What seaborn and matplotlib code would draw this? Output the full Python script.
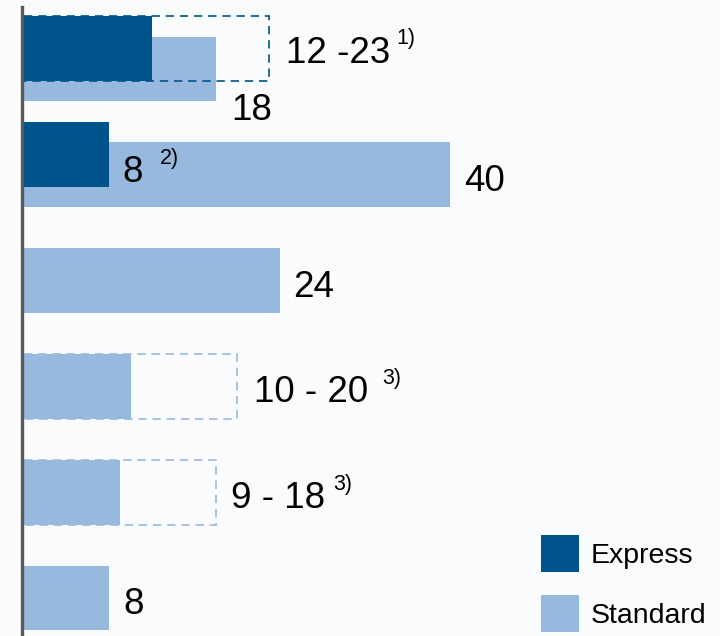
import numpy as np
import matplotlib
matplotlib.use("Agg")
import matplotlib.pyplot as plt
from matplotlib.patches import Patch
import seaborn as sns

# data
rows = ["Row 1", "Row 2", "Row 3", "Row 4", "Row 5", "Row 6"]
standard = [18, 40, 24, 10, 9, 8]
standard_high = [np.nan, np.nan, np.nan, 20, 18, np.nan]
standard_labels = ["18", "40", "24", "10 - 20", "9 - 18", "8"]
standard_notes = ["", "", "", "3)", "3)", ""]
express = [12, 8, np.nan, np.nan, np.nan, np.nan]
express_high = [23, np.nan, np.nan, np.nan, np.nan, np.nan]
express_labels = ["12 -23", "8", "", "", "", ""]
express_notes = ["1)", "2)", "", "", "", ""]

dark = "#00548c"
light = "#97b9de"
bg = "#f9fbfd"

sns.set_theme(style="white", rc={"figure.facecolor": bg, "axes.facecolor": bg,
                                 "text.color": "black"})
plt.rcParams["font.family"] = ["Liberation Sans", "DejaVu Sans"]

fig = plt.figure(figsize=(7.2, 6.36), dpi=100)
ax = fig.add_axes([22 / 720, 0, 1 - 22 / 720, 1 - 7 / 636])

bar_h = 0.614
shift = 0.19
idx = np.arange(len(rows))

# standard bars
sns.barplot(x=standard, y=rows, orient="h", color=light, saturation=1,
            width=bar_h, linewidth=0, ax=ax, zorder=2)

# express bars (shifted up)
exp = np.array(express, dtype=float)
m = ~np.isnan(exp)
ax.barh(idx[m] - shift, exp[m], height=bar_h, color=dark, linewidth=0, zorder=3)

# dashed range boxes
eh = np.array(express_high, dtype=float)
m = ~np.isnan(eh)
ax.barh(idx[m] - shift, eh[m], height=bar_h, fill=False, edgecolor=dark,
        linewidth=1.2, linestyle=(0, (5, 3.5)), zorder=4)
sh = np.array(standard_high, dtype=float)
m = ~np.isnan(sh)
ax.barh(idx[m], sh[m], height=bar_h, fill=False, edgecolor=light,
        linewidth=1.2, linestyle=(0, (5, 3.5)), zorder=4)

# value labels, offsets in points
std_off = {0: (11.5, -36.7), 3: (12.0, -11.5), 4: (11.3, -11.5)}
exp_off = {0: (12.3, -10.0), 1: (9.6, -20.0)}
note_gap = {("e", 0): 4.5, ("e", 1): 12, ("s", 3): 10.5, ("s", 4): 5.5}

def put(x, y, txt, note, off, gap):
    t = ax.annotate(txt, xy=(x, y), xytext=off, textcoords="offset points",
                    ha="left", va="baseline", fontsize=26.5, color="black",
                    zorder=5)
    if note:
        ax.annotate(note, xy=(1, 1), xycoords=t, xytext=(gap, 5.5),
                    textcoords="offset points", ha="left", va="top",
                    fontsize=15.5, color="black", zorder=5)

for i in range(len(rows)):
    if express_labels[i]:
        end = express_high[i] if not np.isnan(express_high[i]) else express[i]
        put(end, i - shift, express_labels[i], express_notes[i],
            exp_off.get(i, (11.5, -11.5)), note_gap.get(("e", i), 7))
    end = standard_high[i] if not np.isnan(standard_high[i]) else standard[i]
    put(end, i, standard_labels[i], standard_notes[i],
        std_off.get(i, (10, -11.5)), note_gap.get(("s", i), 7))

ax.set_xlim(-0.19, 65.35)
ax.set_ylim(5.359, -0.586)
ax.set_xticks([])
ax.set_yticks([])
ax.set_xlabel("")
ax.set_ylabel("")
for s in ["top", "right", "bottom"]:
    ax.spines[s].set_visible(False)
ax.spines["left"].set_color("#595959")
ax.spines["left"].set_linewidth(2.4)
ax.spines["left"].set_zorder(6)

handles = [Patch(facecolor=dark, edgecolor="none", label="Express"),
           Patch(facecolor=light, edgecolor="none", label="Standard")]
fig.legend(handles=handles, loc="lower left", bbox_to_anchor=(541 / 720, 4 / 636),
           frameon=False, fontsize=20.5, handlelength=1.33, handleheight=1.63,
           handletextpad=0.43, labelspacing=0.8, borderpad=0, borderaxespad=0,
           labelcolor="black")

fig.savefig("out.png", dpi=100, facecolor=bg)
